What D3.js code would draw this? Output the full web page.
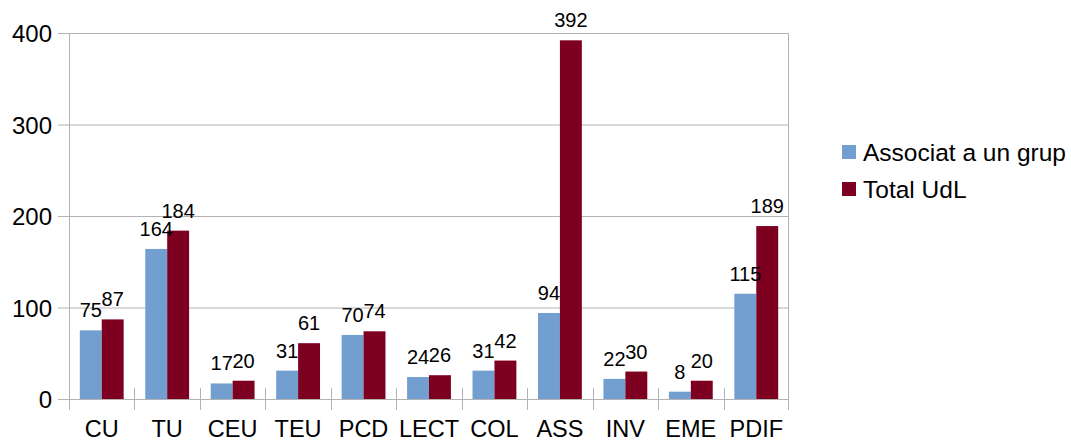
<!DOCTYPE html>
<html>
<head>
<meta charset="utf-8">
<script src="https://cdn.jsdelivr.net/npm/d3@7"></script>
<style>
  body { margin: 0; background: #fff; }
  text { font-family: "Liberation Sans", Arial, sans-serif; fill: #000; }
</style>
</head>
<body>
<div id="chart"></div>
<script>
// data
categories = ["CU", "TU", "CEU", "TEU", "PCD", "LECT", "COL", "ASS", "INV", "EME", "PDIF"];
associat = [75, 164, 17, 31, 70, 24, 31, 94, 22, 8, 115];
totalUdL = [87, 184, 20, 61, 74, 26, 42, 392, 30, 20, 189];
seriesNames = ["Associat a un grup", "Total UdL"];
yTicks = [0, 100, 200, 300, 400];

margin = ({top: 33, right: 282, bottom: 44, left: 69});
width = 1071;
height = 443;
visWidth = width - margin.left - margin.right;
visHeight = height - margin.top - margin.bottom;
color = d3.scaleOrdinal().domain(seriesNames).range(["#729fcf", "#7e0021"]);
gridColor = "#b3b3b3";

const data = categories.map((c, i) => ({key: c, values: [
    {series: seriesNames[0], value: associat[i]},
    {series: seriesNames[1], value: totalUdL[i]}
]}));

const svg = d3.select("#chart")
    .append("svg")
    .attr("width", width)
    .attr("height", height);

const g = svg.append("g")
    .attr("transform", `translate(${margin.left}, ${margin.top})`);

var x = d3.scaleBand()
    .domain(categories)
    .range([0, visWidth])
    .paddingInner(0.33)
    .paddingOuter(0.165);

var x1 = d3.scaleBand()
    .domain(seriesNames)
    .range([0, x.bandwidth()]);

var y = d3.scaleLinear()
    .domain([0, 400])
    .range([visHeight, 0]);

// horizontal grid
g.append("g")
    .selectAll("line")
    .data(yTicks)
    .join("line")
    .attr("x1", -11)
    .attr("x2", visWidth)
    .attr("y1", d => y(d) + 0.5)
    .attr("y2", d => y(d) + 0.5)
    .attr("stroke", gridColor);

// frame
g.append("line")
    .attr("x1", 0.5).attr("x2", 0.5)
    .attr("y1", 0).attr("y2", visHeight + 11)
    .attr("stroke", gridColor);
g.append("line")
    .attr("x1", visWidth - 0.5).attr("x2", visWidth - 0.5)
    .attr("y1", 0).attr("y2", visHeight + 11)
    .attr("stroke", gridColor);

// category separators
const step = visWidth / categories.length;
g.append("g")
    .selectAll("line")
    .data(d3.range(1, categories.length))
    .join("line")
    .attr("x1", d => Math.round(d * step) + 0.5)
    .attr("x2", d => Math.round(d * step) + 0.5)
    .attr("y1", visHeight - 11)
    .attr("y2", visHeight + 11)
    .attr("stroke", gridColor);

// y labels
g.append("g")
    .selectAll("text")
    .data(yTicks)
    .join("text")
    .attr("x", -17)
    .attr("y", d => y(d) + 9)
    .attr("text-anchor", "end")
    .attr("font-size", "24px")
    .text(d => d);

// x labels
g.append("g")
    .selectAll("text")
    .data(categories)
    .join("text")
    .attr("x", d => x(d) + x.bandwidth() / 2)
    .attr("y", visHeight + 38)
    .attr("text-anchor", "middle")
    .attr("font-size", "23.5px")
    .text(d => d);

// bars
const groups = g.selectAll("g.cat")
    .data(data)
    .join("g")
    .attr("class", "cat")
    .attr("transform", d => `translate(${x(d.key)},0)`);

groups.selectAll("rect")
    .data(d => d.values)
    .join("rect")
    .attr("x", d => x1(d.series))
    .attr("y", d => y(d.value))
    .attr("width", x1.bandwidth())
    .attr("height", d => visHeight - y(d.value))
    .attr("fill", d => color(d.series));

groups.selectAll("text")
    .data(d => d.values)
    .join("text")
    .attr("x", d => x1(d.series) + x1.bandwidth() / 2)
    .attr("y", d => y(d.value) - 13)
    .attr("text-anchor", "middle")
    .attr("font-size", "20px")
    .text(d => d.value);

// legend
const legend = svg.append("g")
    .attr("transform", "translate(842, 145)");

legend.selectAll("rect")
    .data(seriesNames)
    .join("rect")
    .attr("x", 0)
    .attr("y", (d, i) => i * 37)
    .attr("width", 14)
    .attr("height", 14)
    .attr("fill", d => color(d));

legend.selectAll("text")
    .data(seriesNames)
    .join("text")
    .attr("x", 21)
    .attr("y", (d, i) => i * 37 + 16)
    .attr("font-size", "24.5px")
    .text(d => d);
</script>
</body>
</html>
